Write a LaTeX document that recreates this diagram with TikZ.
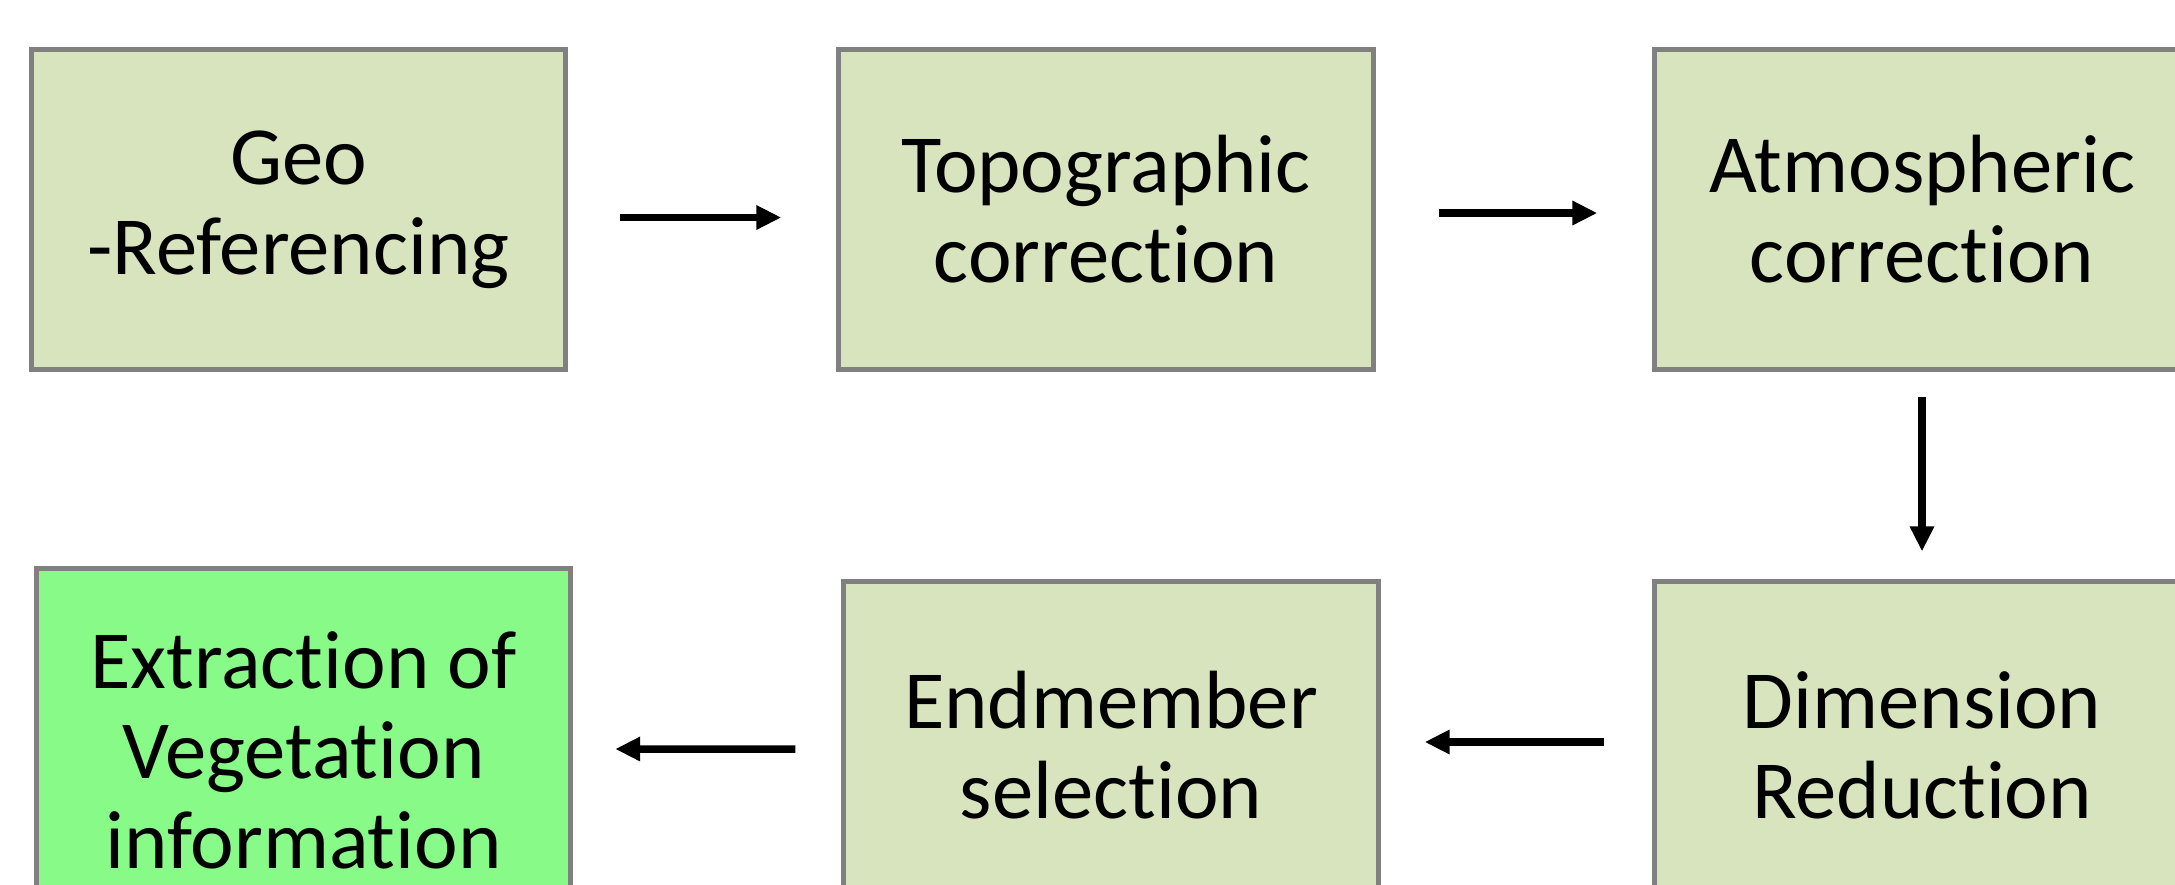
\documentclass[tikz,border=0pt]{standalone}
\usepackage{fontspec}
\setmainfont{Carlito}[Ligatures=NoCommon]
\usetikzlibrary{arrows.meta}
\definecolor{boxfill}{HTML}{D7E4BD}
\definecolor{endfill}{HTML}{88FA88}
\definecolor{boxline}{HTML}{808080}
\tikzset{
  stepbox/.style={draw=boxline,line width=0.05cm,fill=boxfill,minimum width=5.34cm,minimum height=3.2cm,
    align=center,inner sep=0pt,font=\fontsize{23.5}{25.6}\selectfont},
  flow/.style={line width=0.075cm,-{Triangle[length=0.25cm,width=0.23cm]}}
}
\begin{document}
\begin{tikzpicture}[x=0.01cm,y=-0.01cm]
  \clip (0,0) rectangle (2175,884);
  \node[stepbox] (geo) at (298.5,209.5) {Geo\\-Referencing};
  \node[stepbox] (topo) at (1106,209.5) {Topographic\\correction};
  \node[stepbox] (atmo) at (1922,209.5) {Atmospheric\\correction};
  \node[stepbox,minimum height=3.26cm] (dimred) at (1922,745) {Dimension\\Reduction};
  \node[stepbox,minimum height=3.26cm] (endm) at (1111,745) {Endmember\\selection};
  \node[stepbox,fill=endfill,minimum height=3.62cm] (veg) at (303.5,750) {Extraction of\\Vegetation\\information};
  \draw[flow] ([xshift=0.52cm,yshift=-0.08cm]geo.east) -- ([xshift=-0.55cm,yshift=-0.08cm]topo.west);
  \draw[flow] ([xshift=0.63cm,yshift=-0.035cm]topo.east) -- ([xshift=-0.55cm,yshift=-0.035cm]atmo.west);
  \draw[flow] ([yshift=-0.25cm]atmo.south) -- ([yshift=0.28cm]dimred.north);
  \draw[flow] ([xshift=-0.48cm,yshift=0.03cm]dimred.west) -- ([xshift=0.44cm,yshift=0.03cm]endm.east);
  \draw[flow] ([xshift=-0.46cm,yshift=-0.04cm]endm.west) -- ([xshift=0.42cm,yshift=0.01cm]veg.east);
\end{tikzpicture}
\end{document}
